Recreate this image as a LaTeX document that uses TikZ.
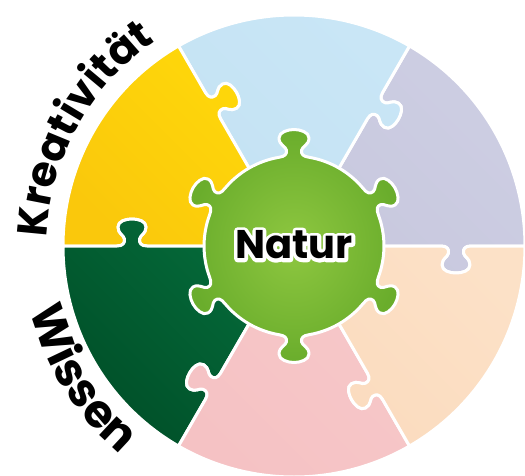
\documentclass[tikz,border=0pt]{standalone}
\usepackage{fontspec}
\setmainfont{Poppins}
\usetikzlibrary{decorations.text}
\definecolor{lavender}{HTML}{C8C8DE}
\definecolor{lavenderlight}{HTML}{CDCEE3}
\definecolor{skyblue}{HTML}{C4E2F3}
\definecolor{skybluelight}{HTML}{C9E6F6}
\definecolor{sunyellow}{HTML}{FAC80C}
\definecolor{sunyellowlight}{HTML}{FFD90A}
\definecolor{forest}{HTML}{004F28}
\definecolor{forestlight}{HTML}{056C3B}
\definecolor{rose}{HTML}{F5C2C4}
\definecolor{roselight}{HTML}{F7C8C9}
\definecolor{peach}{HTML}{FBDBBE}
\definecolor{peachlight}{HTML}{FCE1C7}
\definecolor{leaf}{HTML}{6AAD2C}
\definecolor{leaflight}{HTML}{8EC740}
\newcommand{\kfont}{\fontsize{42}{44}\selectfont\bfseries}
\newcommand{\wfont}{\fontsize{46}{48}\selectfont\bfseries}
\newcommand{\nfont}{\fontsize{40}{42}\selectfont\bfseries}
% white outline round a text (stroked glyphs)
\newcommand{\outlined}[1]{\special{pdf:literal 1 Tr 7 w 1 j}#1\special{pdf:literal 0 Tr}}
% tab on a divider, going outwards / inwards (divider along the x axis)
\newcommand{\tabout}{-- (147,0) .. controls (153,0) and (155,-3) .. (154.5,-7)
  .. controls (154,-11) and (148,-12) .. (148,-19)
  .. controls (148,-25) and (156,-27) .. (162,-27)
  .. controls (168,-27) and (176,-25) .. (176,-19)
  .. controls (176,-12) and (170,-11) .. (169.5,-7)
  .. controls (169,-3) and (171,0) .. (177,0) -- (231,0)}
\newcommand{\tabin}{-- (177,0) .. controls (171,0) and (169,-3) .. (169.5,-7)
  .. controls (170,-11) and (176,-12) .. (176,-19)
  .. controls (176,-25) and (168,-27) .. (162,-27)
  .. controls (156,-27) and (148,-25) .. (148,-19)
  .. controls (148,-12) and (154,-11) .. (154.5,-7)
  .. controls (155,-3) and (153,0) .. (147,0) -- (0,0)}
\tikzset{
  piece/.style={draw=white, line width=3, line join=round},
  core/.style={draw=white, line width=3, line join=round,
    inner color=leaflight, outer color=leaf}
}

\begin{document}
\begin{tikzpicture}[x=1pt, y=1pt]
  \useasboundingbox (-294,-229) rectangle (231,246);

  % --- Puzzle ring: six pieces ---
  \foreach \a/\ca/\cb in {0/lavender/lavenderlight, 60/skyblue/skybluelight,
      120/sunyellow/sunyellowlight, 180/forest/forestlight,
      240/rose/roselight, 300/peach/peachlight} {
    \path[piece, bottom color=\ca, top color=\cb, shading angle=-45]
      (0,0) {[rotate=\a] \tabout}
      arc[start angle=\a, end angle=\a+60, radius=231]
      {[rotate=\a+60] \tabin} -- cycle;
  }

  % --- Centre piece with six knobs ---
  \path[core] (39.6:90)
    \foreach \k in {90,150,...,390} {
      arc[start angle=\k-50.4, end angle=\k-9.6, radius=90]
      {[rotate=\k-90] .. controls (9,89.7) and (7,91.7) .. (7.5,95.7)
        .. controls (8,99.7) and (15,100.7) .. (15,108)
        .. controls (15,114) and (6,116.5) .. (0,116.5)
        .. controls (-6,116.5) and (-15,114) .. (-15,108)
        .. controls (-15,100.7) and (-8,99.7) .. (-7.5,95.7)
        .. controls (-7,91.7) and (-9,89.7) .. (-15,88.7)}
    } -- cycle;

  % Label in the middle, white outline first
  \node[text=white, font=\nfont] (halo) at (0,1) {\outlined{Natur}};
  \node[font=\nfont] (natur) at (0,1) {Natur};

  % --- Words round the ring ---
  \path[decorate, decoration={text along path, text align=center,
      text={|\kfont|Kreativität}}]
    (195:247) arc[start angle=195, end angle=107, radius=247];
  \path[decorate, decoration={text along path, text align=center,
      text={|\wfont|Wissen}}]
    (181:271) arc[start angle=181, end angle=243, radius=271];
\end{tikzpicture}
\end{document}
